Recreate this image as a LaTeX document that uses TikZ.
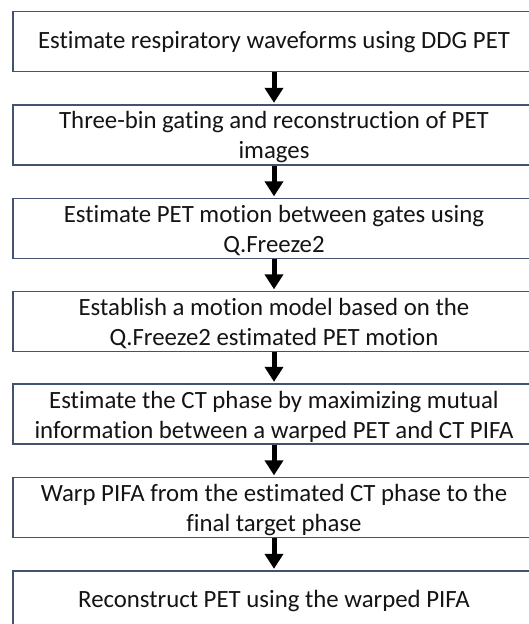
\documentclass[tikz,border=0pt]{standalone}
\usepackage{fontspec}
\setmainfont[Ligatures={NoCommon}]{Carlito}
\usetikzlibrary{arrows.meta}
\definecolor{boxline}{RGB}{66,82,112}
\definecolor{txt}{RGB}{20,20,20}
\tikzset{
  stepbox/.style={draw=boxline, line width=1.3pt, fill=white, minimum width=522pt,
    minimum height=60pt, inner sep=0pt},
  steptext/.style={align=center, font=\fontsize{24.8}{30}\selectfont, text=txt, inner sep=0pt},
  flowarrow/.style={line width=5pt, -{Triangle[width=18pt,length=15pt]}, black, shorten >=1.5pt}
}
\begin{document}
\begin{tikzpicture}[x=1pt,y=1pt]
\useasboundingbox (0,0) rectangle (528,624);
\node[stepbox] (b1) at (274,624-41.8) {};
\node[stepbox] (b2) at (274,624-135) {};
\node[stepbox] (b3) at (274,624-228.5) {};
\node[stepbox] (b4) at (274,624-321.5) {};
\node[stepbox] (b5) at (274,624-414) {};
\node[stepbox] (b6) at (274,624-507.5) {};
\node[stepbox] (b7) at (274,624-601) {};
\node[steptext] (t1) at ([yshift=-0.5pt]b1.center) {Estimate respiratory waveforms using DDG PET};
\node[steptext] (t2) at ([yshift=-2.5pt]b2.center) {Three-bin gating and reconstruction of PET\\images};
\node[steptext] (t3) at ([yshift=-2.5pt]b3.center) {Estimate PET motion between gates using\\Q.Freeze2};
\node[steptext] (t4) at ([yshift=-2.5pt]b4.center) {Establish a motion model based on the\\Q.Freeze2 estimated PET motion};
\node[steptext] (t5) at ([yshift=-2.5pt]b5.center) {Estimate the CT phase by maximizing mutual\\information between a warped PET and CT PIFA};
\node[steptext] (t6) at ([yshift=-2.5pt]b6.center) {Warp PIFA from the estimated CT phase to the\\final target phase};
\node[steptext] (t7) at ([yshift=-0.5pt]b7.center) {Reconstruct PET using the warped PIFA};
\draw[flowarrow] (b1.south) -- (b2.north);
\draw[flowarrow] (b2.south) -- (b3.north);
\draw[flowarrow] (b3.south) -- (b4.north);
\draw[flowarrow] (b4.south) -- (b5.north);
\draw[flowarrow] (b5.south) -- (b6.north);
\draw[flowarrow] (b6.south) -- (b7.north);
\end{tikzpicture}
\end{document}
